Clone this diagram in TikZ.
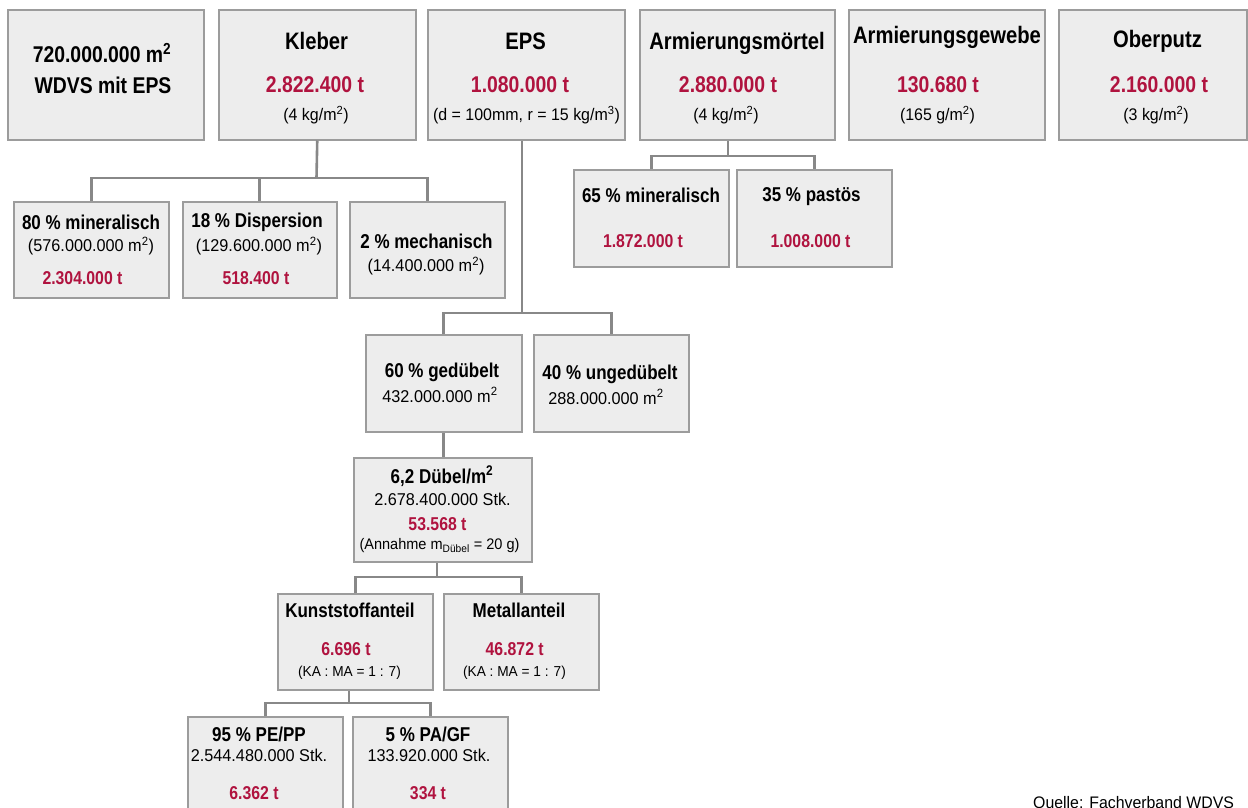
\documentclass[tikz,border=0pt]{standalone}
\usepackage{fontspec}
\setmainfont[FakeStretch=0.95, BoldFeatures={FakeStretch=0.85}]{Liberation Sans}
\definecolor{boxfill}{HTML}{EDEDED}
\definecolor{boxline}{HTML}{9C9C9C}
\definecolor{connline}{HTML}{888888}
\definecolor{wred}{HTML}{B0133F}
\begin{document}
\begin{tikzpicture}[x=1pt,y=-1pt,
  box/.style={draw=boxline, fill=boxfill, line width=1.5pt, inner sep=0pt},
  conn/.style={draw=connline, line width=2.6pt},
  big/.style={font=\bfseries\fontsize{23.8}{27}\selectfont, inner sep=0pt},
  mainbig/.style={font=\bfseries\fontsize{22.8}{27}\selectfont, inner sep=0pt},
  bigred/.style={font=\bfseries\fontsize{22.8}{26}\selectfont, text=wred, inner sep=0pt},
  small/.style={font=\fontsize{16.8}{19}\selectfont, inner sep=0pt},
  mid/.style={font=\bfseries\fontsize{20}{23}\selectfont, inner sep=0pt},
  midred/.style={font=\bfseries\fontsize{18.6}{22}\selectfont, text=wred, inner sep=0pt},
  midreg/.style={font=\fontsize{17.1}{21}\selectfont, inner sep=0pt},
  tiny/.style={font=\fontsize{14.4}{17}\selectfont, inner sep=0pt},
  tinyb/.style={font=\fontsize{15.3}{17}\selectfont, inner sep=0pt}
]
\useasboundingbox (0,0) rectangle (1248,807);
% ---- top row
\node[box, anchor=north west, minimum width=196pt, minimum height=130pt] (main) at (7,9) {};
\node[mainbig] (mainA) at (102,53) {720.000.000 m\textsuperscript{2}};
\node[mainbig] (mainB) at (103,85) {WDVS mit EPS};

\node[box, anchor=north west, minimum width=197pt, minimum height=130pt] (kleber) at (218,9) {};
\node[big] (kleberT) at (316.5,41) {Kleber};
\node[bigred] (kleberR) at (315,85) {2.822.400 t};
\node[small] (kleberS) at (316,115) {(4 kg/m\textsuperscript{2})};

\node[box, anchor=north west, minimum width=197pt, minimum height=130pt] (eps) at (427,9) {};
\node[big] (epsT) at (525.5,41) {EPS};
\node[bigred] (epsR) at (520,85) {1.080.000 t};
\node[small] (epsS) at (526.5,115) {(d = 100mm, r = 15 kg/m\textsuperscript{3})};

\node[box, anchor=north west, minimum width=195pt, minimum height=130pt] (am) at (639,9) {};
\node[big] (amT) at (737,43) {Armierungsmörtel};
\node[bigred] (amR) at (728,85) {2.880.000 t};
\node[small] (amS) at (726,115) {(4 kg/m\textsuperscript{2})};

\node[box, anchor=north west, minimum width=196pt, minimum height=130pt] (ag) at (848,9) {};
\node[big] (agT) at (947,37) {Armierungsgewebe};
\node[bigred] (agR) at (938,85) {130.680 t};
\node[small] (agS) at (937.5,115) {(165 g/m\textsuperscript{2})};

\node[box, anchor=north west, minimum width=188pt, minimum height=130pt] (op) at (1058,9) {};
\node[big] (opT) at (1157.5,41) {Oberputz};
\node[bigred] (opR) at (1159,85) {2.160.000 t};
\node[small] (opS) at (1156,115) {(3 kg/m\textsuperscript{2})};

% ---- Kleber children
\node[box, anchor=north west, minimum width=155pt, minimum height=96pt] (k1) at (13,201) {};
\node[mid] (k1T) at (91,222) {80 \% mineralisch};
\node[midreg] (k1S) at (91,246) {(576.000.000 m\textsuperscript{2})};
\node[midred] (k1R) at (82.5,278) {2.304.000 t};

\node[box, anchor=north west, minimum width=154pt, minimum height=96pt] (k2) at (182,201) {};
\node[mid] (k2T) at (257,222) {18 \% Dispersion};
\node[midreg] (k2S) at (259,246) {(129.600.000 m\textsuperscript{2})};
\node[midred] (k2R) at (256,278) {518.400 t};

\node[box, anchor=north west, minimum width=155pt, minimum height=96pt] (k3) at (349,201) {};
\node[mid] (k3T) at (426.5,241) {2 \% mechanisch};
\node[midreg] (k3S) at (426,266) {(14.400.000 m\textsuperscript{2})};

\coordinate (kbus) at (316.5,178);
\draw[conn] (kleber.south) -- (kbus);
\draw[conn] (k1.north) |- (kbus) -| (k3.north);
\draw[conn] (k2.north) -- (k2.north |- kbus);

% ---- Armierungsmoertel children
\node[box, anchor=north west, minimum width=155pt, minimum height=97pt] (a1) at (573,169) {};
\node[mid] (a1T) at (651,195) {65 \% mineralisch};
\node[midred] (a1R) at (643,241) {1.872.000 t};

\node[box, anchor=north west, minimum width=155pt, minimum height=97pt] (a2) at (736,169) {};
\node[mid] (a2T) at (811.5,197) {35 \% pastös};
\node[midred] (a2R) at (810.5,241) {1.008.000 t};

\coordinate (abus) at (728,156);
\draw[conn] (am.south -| abus) -- (abus);
\draw[conn] (a1.north) |- (abus) -| (a2.north);

% ---- EPS children
\node[box, anchor=north west, minimum width=156pt, minimum height=97pt] (e1) at (365,334) {};
\node[mid] (e1T) at (442,372) {60 \% gedübelt};
\node[midreg] (e1S) at (440,395) {432.000.000 m\textsuperscript{2}};

\node[box, anchor=north west, minimum width=155pt, minimum height=97pt] (e2) at (533,334) {};
\node[mid] (e2T) at (610,374) {40 \% ungedübelt};
\node[midreg] (e2S) at (606,397) {288.000.000 m\textsuperscript{2}};

\coordinate (ebus) at (522,313);
\draw[conn] (eps.south -| ebus) -- (ebus);
\draw[conn] (e1.north) |- (ebus) -| (e2.north);

% ---- Duebel
\node[box, anchor=north west, minimum width=178pt, minimum height=104pt] (d) at (353,457) {};
\node[mid] (dT) at (442,476) {6,2 Dübel/m\textsuperscript{2}};
\node[midreg] (dS) at (442.5,499) {2.678.400.000 Stk.};
\node[midred] (dR) at (437.5,524) {53.568 t};
\node[tinyb] (dA) at (439.5,546) {(Annahme m\textsubscript{Dübel} = 20 g)};

\draw[conn] (e1.south) -- (e1.south |- d.north);

% ---- Kunststoff / Metall
\node[box, anchor=north west, minimum width=155pt, minimum height=96pt] (ka) at (277,593) {};
\node[mid] (kaT) at (350,610) {Kunststoffanteil};
\node[midred] (kaR) at (346,649) {6.696 t};
\node[tiny] (kaS) at (349.5,673) {(KA : MA = 1 : 7)};

\node[box, anchor=north west, minimum width=155pt, minimum height=96pt] (ma) at (443,593) {};
\node[mid] (maT) at (519,610) {Metallanteil};
\node[midred] (maR) at (514.7,649) {46.872 t};
\node[tiny] (maS) at (514.5,673) {(KA : MA = 1 : 7)};

\coordinate (dbus) at (437,577);
\draw[conn] (d.south -| dbus) -- (dbus);
\draw[conn] (ka.north) |- (dbus) -| (ma.north);

% ---- PE/PP, PA/GF
\node[box, anchor=north west, minimum width=155pt, minimum height=114pt] (pe) at (187,716) {};
\node[mid] (peT) at (259,734) {95 \% PE/PP};
\node[midreg] (peS) at (259,755) {2.544.480.000 Stk.};
\node[midred] (peR) at (254,793) {6.362 t};

\node[box, anchor=north west, minimum width=155pt, minimum height=114pt] (pa) at (352,716) {};
\node[mid] (paT) at (428,734) {5 \% PA/GF};
\node[midreg] (paS) at (429,755) {133.920.000 Stk.};
\node[midred] (paR) at (428,793) {334 t};

\coordinate (kbus2) at (349,703);
\draw[conn] (ka.south -| kbus2) -- (kbus2);
\draw[conn] (pe.north) |- (kbus2) -| (pa.north);

% ---- source
\node[font=\fontsize{16.7}{19}\selectfont, anchor=north west, inner sep=0pt] (src) at (1033,796) {Quelle: Fachverband WDVS};
\end{tikzpicture}
\end{document}
